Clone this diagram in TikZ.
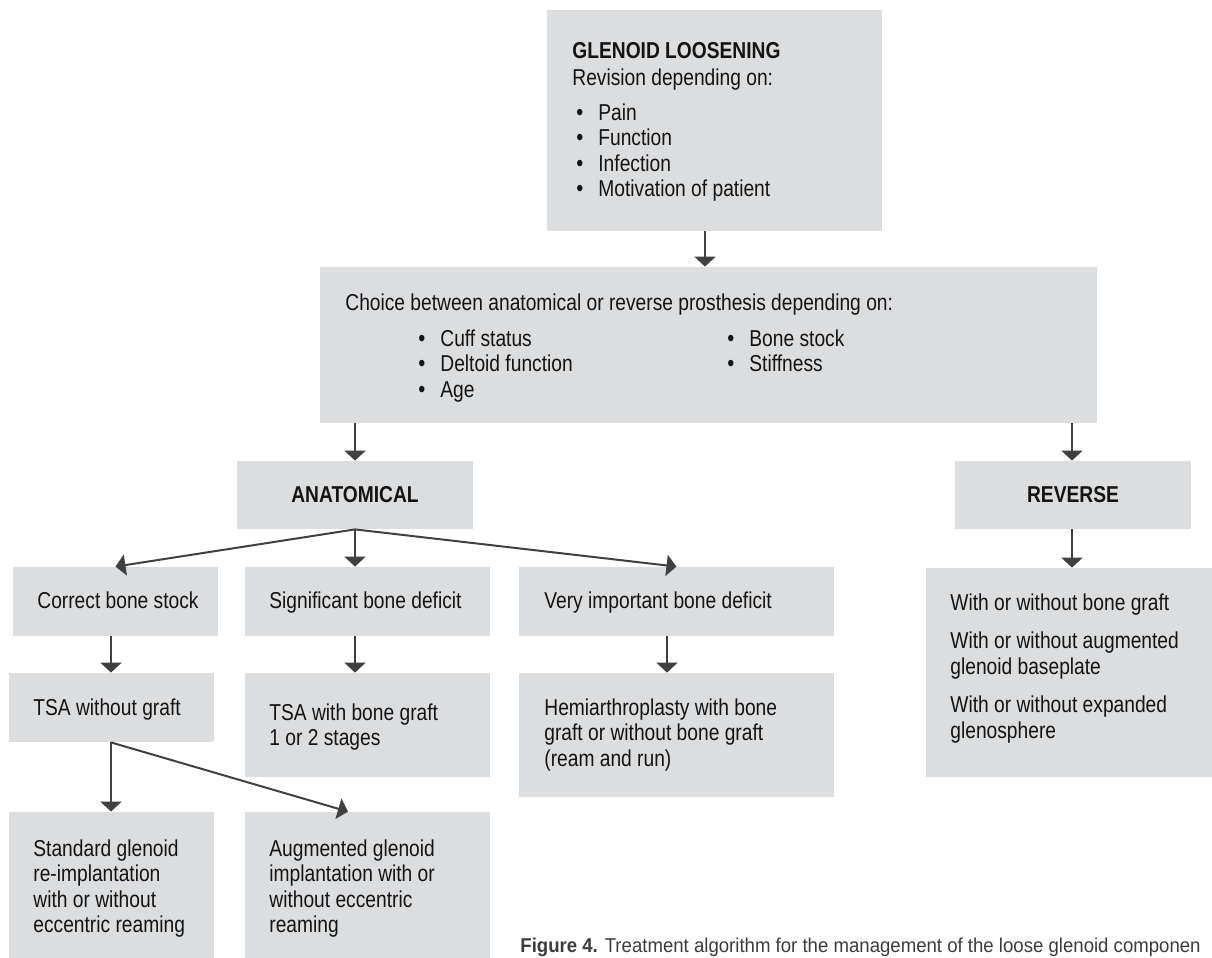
\documentclass[tikz,border=0pt]{standalone}
\usepackage{fontspec}
\setmainfont{Liberation Sans}[FakeStretch=0.835]
\newfontfamily\capfont{Liberation Sans}[FakeStretch=0.93]
\usetikzlibrary{arrows.meta,fit}
\definecolor{boxc}{HTML}{DCDDDF}
\definecolor{arrc}{HTML}{404040}
\definecolor{txtc}{HTML}{141414}
\definecolor{capc}{HTML}{3C3C3C}
\newcommand{\bul}[1]{\hbox{\makebox[11pt][l]{\large•}#1}}
\begin{document}
\begin{tikzpicture}[x=0.5pt,y=-0.5pt,
  box/.style={fill=boxc, draw=none, inner sep=0pt},
  txt/.style={anchor=base west, inner sep=0pt, text=txtc, font=\fontsize{11.5}{12.75}\selectfont},
  ctxt/.style={inner sep=0pt, text=txtc, font=\fontsize{11.5}{12.75}\selectfont\bfseries},
  arr/.style={draw=arrc, line width=1pt, -{Triangle[width=10.5pt,length=5pt]}, fill=arrc}]
\useasboundingbox (0,0) rectangle (1212,958);

% boxes
\node[box, fit={(547,10) (882,231)}] (top) {};
\node[box, fit={(320,267) (1097,423)}] (choice) {};
\node[box, fit={(237,461) (473,529)}] (anat) {};
\node[box, fit={(955,461) (1191,529)}] (rev) {};
\node[box, fit={(926,568) (1212,777)}] (rbox) {};
\node[box, fit={(13,567) (218,636)}] (c1) {};
\node[box, fit={(245,567) (490,636)}] (c2) {};
\node[box, fit={(519,567) (834,636)}] (c3) {};
\node[box, fit={(9,673) (214,742)}] (d1) {};
\node[box, fit={(245,673) (490,777)}] (d2) {};
\node[box, fit={(519,673) (834,797)}] (d3) {};
\node[box, fit={(9,812) (214,958)}] (e1) {};
\node[box, fit={(245,812) (490,958)}] (e2) {};

% texts
\node[txt] (ttop1) at (572,58) {\textbf{GLENOID LOOSENING}};
\node[txt] (ttop2) at (572,85) {Revision depending on:};
\node[txt] (ttop3) at (576,120) {\vtop{\bul{Pain}\bul{Function}\bul{Infection}\bul{Motivation of patient}}};
\node[txt] (tch1) at (345,310) {Choice between anatomical or reverse prosthesis depending on:};
\node[txt] (tch2) at (418,346) {\vtop{\bul{Cuff status}\bul{Deltoid function}\bul{Age}}};
\node[txt] (tch3) at (727,346) {\vtop{\bul{Bone stock}\bul{Stiffness}}};
\node[ctxt] (tanat) at (anat.center) {ANATOMICAL};
\node[ctxt] (trev) at (rev.center) {REVERSE};
\node[txt] (trbox) at (950,610) {\vtop{\hbox{With or without bone graft}\vskip 6.5pt
  \hbox{With or without augmented}\hbox{glenoid baseplate}\vskip 6.5pt
  \hbox{With or without expanded}\hbox{glenosphere}}};
\node[txt] (tc1) at (37,608) {Correct bone stock};
\node[txt] (tc2) at (269,608) {Significant bone deficit};
\node[txt] (tc3) at (544,608) {Very important bone deficit};
\node[txt] (td1) at (33,715) {TSA without graft};
\node[txt] (td2) at (269,720) {\vtop{\hbox{TSA with bone graft}\hbox{1 or 2 stages}}};
\node[txt] (td3) at (544,715) {\vtop{\hbox{Hemiarthroplasty with bone}\hbox{graft or without bone graft}\hbox{(ream and run)}}};
\node[txt] (te1) at (33,856) {\vtop{\hbox{Standard glenoid}\hbox{re-implantation}\hbox{with or without}\hbox{eccentric reaming}}};
\node[txt] (te2) at (269,856) {\vtop{\hbox{Augmented glenoid}\hbox{implantation with or}\hbox{without eccentric}\hbox{reaming}}};
\node[anchor=base west, inner sep=0pt, text=capc, font=\capfont\fontsize{10}{12}\selectfont] (cap) at (520,952)
  {\textbf{Figure 4.} Treatment algorithm for the management of the loose glenoid componen};

% connectors
\coordinate (xa) at (705,0);
\coordinate (xl) at (355,0);
\coordinate (xr) at (1072,0);
\coordinate (x1) at (111,0);
\coordinate (x2) at (348,0);
\coordinate (x3) at (667,0);
\draw[arr] (top.south -| xa) -- (choice.north -| xa);
\draw[arr] (choice.south -| xl) -- (anat.north -| xl);
\draw[arr] (choice.south -| xr) -- (rev.north -| xr);
\draw[arr] (rev.south -| xr) -- (rbox.north -| xr);
\draw[arr] (anat.south) -- (c1.north);
\draw[arr] (anat.south) -- (c2.north -| anat.south);
\draw[arr] (anat.south) -- (c3.north);
\draw[arr] (c1.south -| x1) -- (d1.north -| x1);
\draw[arr] (c2.south -| xl) -- (d2.north -| xl);
\draw[arr] (c3.south -| x3) -- (d3.north -| x3);
\draw[arr] (d1.south -| x1) -- (e1.north -| x1);
\draw[arr] (d1.south -| x1) -- (e2.north -| x2);
\end{tikzpicture}
\end{document}
